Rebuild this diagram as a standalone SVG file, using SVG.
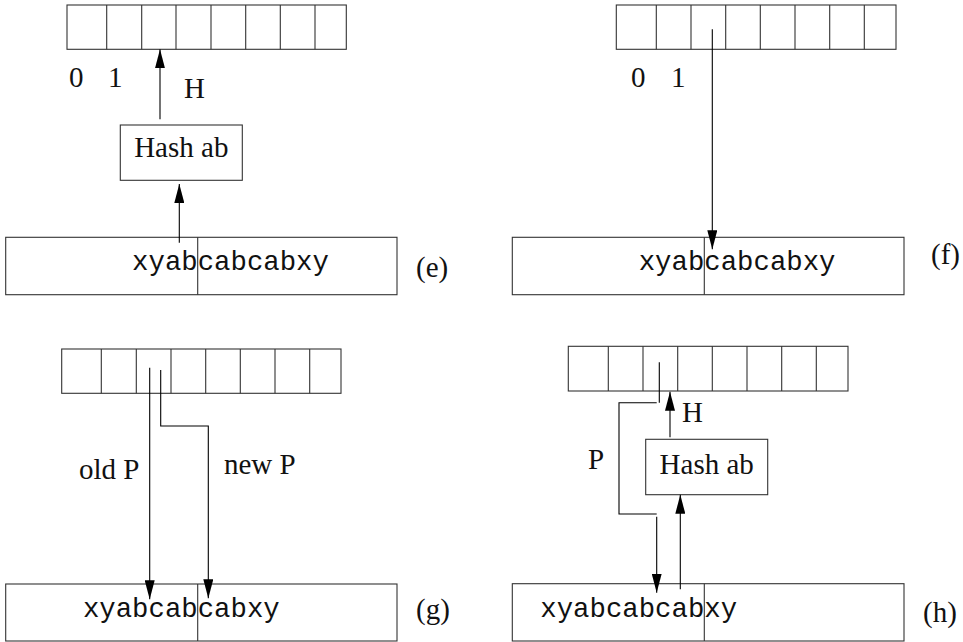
<svg xmlns="http://www.w3.org/2000/svg" width="963" height="642" viewBox="0 0 963 642">
<defs>
<marker id="ah" markerWidth="19" markerHeight="10" refX="19" refY="5" orient="auto" markerUnits="userSpaceOnUse">
<path d="M0,0 L19,5 L0,10 Z" fill="#000"/>
</marker>
<style>
.box{fill:none;stroke:#333;stroke-width:1.1}
.div{stroke:#333;stroke-width:1.1}
.arr{fill:none;stroke:#000;stroke-width:1.1;marker-end:url(#ah)}
.line{fill:none;stroke:#000;stroke-width:1.1}
.rm{font-family:"Liberation Serif","Times New Roman",serif;font-size:29px;fill:#111}
.tt{font-family:"Liberation Mono","Courier New",monospace;font-size:27.33px;fill:#111}
</style>
</defs>
<rect width="963" height="642" fill="#fff"/>

<!-- Panel (e) -->
<g id="table-e">
<rect class="box" x="67" y="5" width="279.3" height="44.3"/>
<path class="div" d="M106.7,5V49.3M141.7,5V49.3M176,5V49.3M211,5V49.3M245.7,5V49.3M280.3,5V49.3M315,5V49.3"/>
<text class="rm" x="69" y="87">0</text>
<text class="rm" x="108" y="87">1</text>
</g>
<g id="hash-e">
<rect class="box" x="120.3" y="125" width="122" height="55.3"/>
<text class="rm" x="181.3" y="157" text-anchor="middle">Hash ab</text>
</g>
<g id="string-e">
<rect class="box" x="5.7" y="237.3" width="391.3" height="57.4"/>
<path class="div" d="M197.7,237.3V294.7"/>
<text class="tt" x="132.1" y="270">xyabcabcabxy</text>
</g>
<g id="label-e"><text class="rm" x="416" y="277">(e)</text></g>
<g id="conn-e">
<path class="arr" d="M160,119.3V49.3"/>
<path class="arr" d="M179.3,242.7V184"/>
<text class="rm" x="184" y="98">H</text>
</g>

<!-- Panel (f) -->
<g id="table-f">
<rect class="box" x="616.3" y="5" width="279.7" height="44.3"/>
<path class="div" d="M656.3,5V49.3M691,5V49.3M725.7,5V49.3M760.3,5V49.3M795,5V49.3M829.7,5V49.3M864.3,5V49.3"/>
<text class="rm" x="631" y="87">0</text>
<text class="rm" x="671" y="87">1</text>
</g>
<g id="string-f">
<rect class="box" x="512.3" y="237.3" width="391.7" height="57.4"/>
<path class="div" d="M704.3,237.3V294.7"/>
<text class="tt" x="638.7" y="270">xyabcabcabxy</text>
</g>
<g id="label-f"><text class="rm" x="931" y="264">(f)</text></g>
<g id="conn-f">
<path class="arr" d="M712.3,29.3V249.3"/>
</g>

<!-- Panel (g) -->
<g id="table-g">
<rect class="box" x="61.7" y="349" width="279.3" height="44.3"/>
<path class="div" d="M101.3,349V393.3M136.3,349V393.3M171,349V393.3M205.7,349V393.3M240.3,349V393.3M275,349V393.3M309.7,349V393.3"/>
</g>
<g id="string-g">
<rect class="box" x="5.7" y="584" width="391.3" height="57"/>
<path class="div" d="M197.7,584V641"/>
<text class="tt" x="82.9" y="617">xyabcabcabxy</text>
</g>
<g id="label-g"><text class="rm" x="416" y="619">(g)</text></g>
<g id="conn-g">
<path class="arr" d="M149.7,367.7V599.3"/>
<path class="arr" d="M160.7,370V426H208.3V598.3"/>
<text class="rm" x="79" y="479">old P</text>
<text class="rm" x="224" y="474">new P</text>
</g>

<!-- Panel (h) -->
<g id="table-h">
<rect class="box" x="568.3" y="346.3" width="279.7" height="44.7"/>
<path class="div" d="M608.3,346.3V391M643,346.3V391M677.7,346.3V391M712.3,346.3V391M747,346.3V391M781.7,346.3V391M816.3,346.3V391"/>
</g>
<g id="hash-h">
<rect class="box" x="645.7" y="439.3" width="122" height="55.4"/>
<text class="rm" x="706.7" y="474" text-anchor="middle">Hash ab</text>
</g>
<g id="string-h">
<rect class="box" x="512.3" y="583.7" width="391.7" height="57.3"/>
<path class="div" d="M704.3,583.7V641"/>
<text class="tt" x="540.3" y="617">xyabcabcabxy</text>
</g>
<g id="label-h"><text class="rm" x="923" y="622">(h)</text></g>
<g id="conn-h">
<path class="line" d="M659.3,362.3V402.7M656.7,402.7H619V514H656.7"/>
<path class="arr" d="M656.7,516.7V592.7"/>
<path class="arr" d="M670,437.3V391.7"/>
<path class="arr" d="M680.3,589.3V494.7"/>
<text class="rm" x="682" y="422">H</text>
<text class="rm" x="588" y="469">P</text>
</g>
</svg>
